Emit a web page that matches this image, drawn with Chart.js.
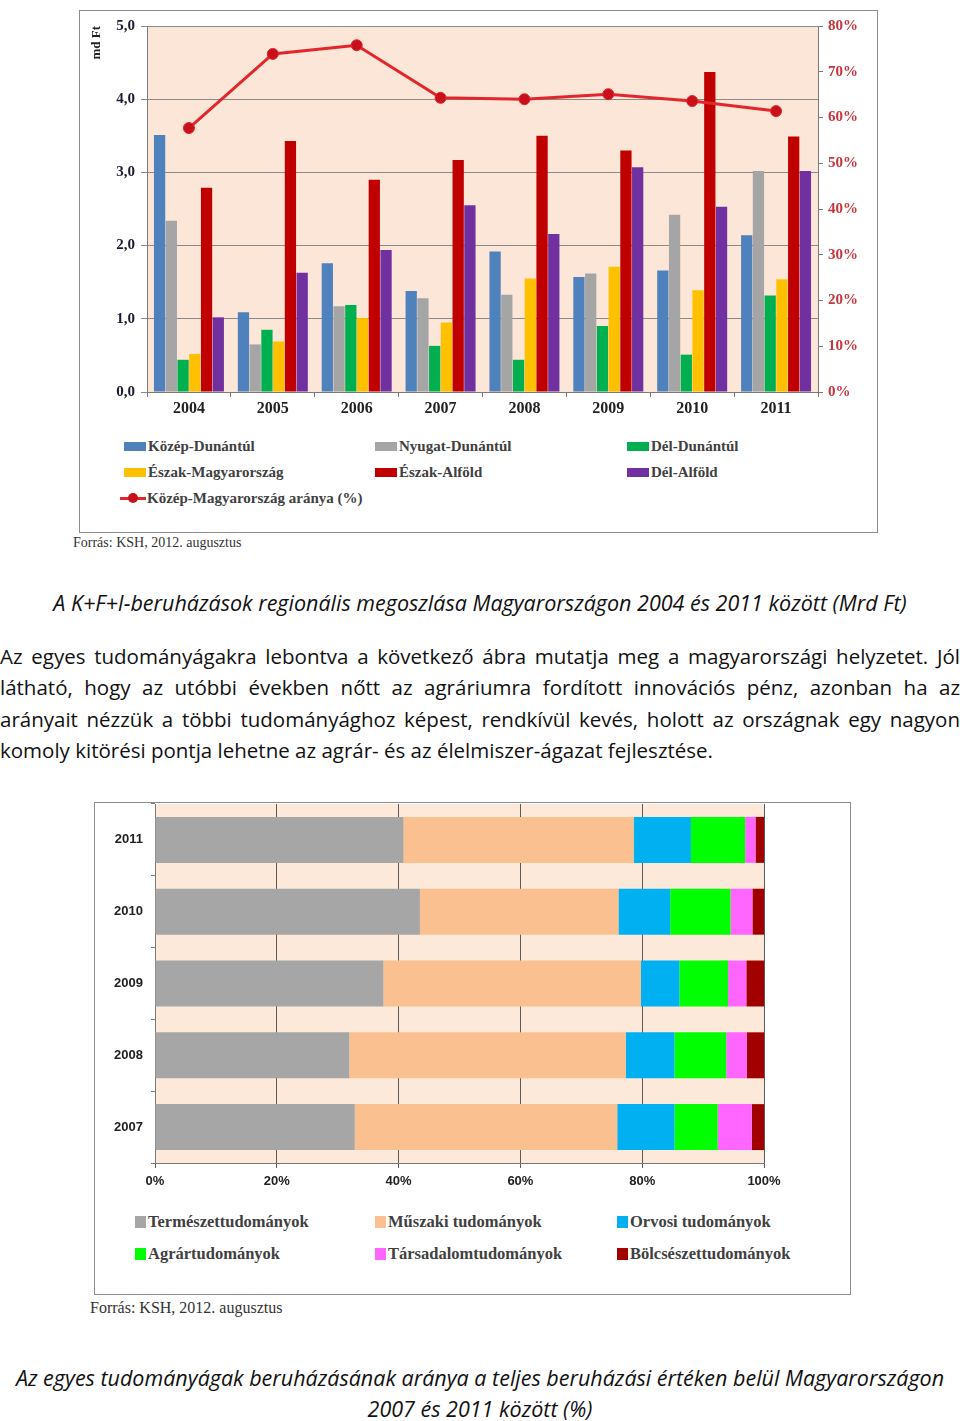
<!DOCTYPE html>
<html lang="hu">
<head>
<meta charset="utf-8">
<script src="https://cdn.jsdelivr.net/npm/chart.js@4.4.1/dist/chart.umd.min.js"></script>
<style>
  body { margin:0; background:#fff; width:960px; height:1421px; position:relative; overflow:hidden; font-family:"Open Sans", sans-serif; color:#111; }
  .box { position:absolute; border:1px solid #8c8c8c; box-sizing:border-box; background:#fff; }
  canvas { position:absolute; }
  .leg { position:absolute; font-family:"Liberation Serif", serif; font-weight:bold; color:#404040; white-space:nowrap; line-height:18px; }
  .leg i { display:inline-block; vertical-align:middle; margin-top:-3px; }
  .src { position:absolute; font-family:"Liberation Serif", serif; color:#333; white-space:nowrap; }
  .cap { position:absolute; left:0; width:960px; text-align:center; font-style:italic; font-size:21.5px; line-height:26px; white-space:nowrap; }
  .par { position:absolute; left:0; width:960px; font-size:20.5px; line-height:26px; text-align:justify; text-align-last:justify; white-space:nowrap; }
  .par.last { text-align-last:left; }
</style>
</head>
<body>

<div class="box" style="left:79px;top:10px;width:799px;height:523px"></div>
<canvas id="chart1" width="798" height="420" style="left:79px;top:10px"></canvas>
<div id="legend1"></div>
<div class="src" style="left:73px;top:535px;font-size:14px">Forrás: KSH, 2012. augusztus</div>

<div class="cap" style="top:590px">A K+F+I-beruházások regionális megoszlása Magyarországon 2004 és 2011 között (Mrd Ft)</div>

<div class="par" style="top:643px">Az egyes tudományágakra lebontva a következő ábra mutatja meg a magyarországi helyzetet. Jól</div>
<div class="par" style="top:674px">látható, hogy az utóbbi években nőtt az agráriumra fordított innovációs pénz, azonban ha az</div>
<div class="par" style="top:706px">arányait nézzük a többi tudományághoz képest, rendkívül kevés, holott az országnak egy nagyon</div>
<div class="par last" style="top:737px">komoly kitörési pontja lehetne az agrár- és az élelmiszer-ágazat fejlesztése.</div>

<div class="box" style="left:94px;top:802px;width:757px;height:493px"></div>
<canvas id="chart2" width="756" height="400" style="left:94px;top:802px"></canvas>
<div id="legend2"></div>
<div class="src" style="left:90px;top:1299px;font-size:16px">Forrás: KSH, 2012. augusztus</div>

<div class="cap" style="top:1365px">Az egyes tudományágak beruházásának aránya a teljes beruházási értéken belül Magyarországon</div>
<div class="cap" style="top:1396px">2007 és 2011 között (%)</div>

<script>
// 1. ábra: régiók, md Ft
const evek1 = ['2004', '2005', '2006', '2007', '2008', '2009', '2010', '2011'];
const regioNevek = ['Közép-Dunántúl', 'Nyugat-Dunántúl', 'Dél-Dunántúl', 'Észak-Magyarország', 'Észak-Alföld', 'Dél-Alföld'];
const kozepDunantul   = [3.51, 1.09, 1.76, 1.38, 1.92, 1.57, 1.66, 2.14];
const nyugatDunantul  = [2.34, 0.65, 1.17, 1.28, 1.33, 1.62, 2.42, 3.02];
const delDunantul     = [0.44, 0.85, 1.19, 0.63, 0.44, 0.90, 0.51, 1.32];
const eszakMagyarorszag = [0.52, 0.69, 1.01, 0.95, 1.55, 1.71, 1.39, 1.54];
const eszakAlfold     = [2.79, 3.43, 2.90, 3.17, 3.50, 3.30, 4.37, 3.49];
const delAlfold       = [1.02, 1.63, 1.94, 2.55, 2.16, 3.07, 2.53, 3.02];
const vonalNev = 'Közép-Magyarország aránya (%)';
const kozepMoArany    = [57.7, 73.9, 75.8, 64.3, 64.0, 65.1, 63.6, 61.4];

// 2. ábra: tudományágak, %
const evek2 = ['2007', '2008', '2009', '2010', '2011'];
const tudomanyNevek = ['Természettudományok', 'Műszaki tudományok', 'Orvosi tudományok', 'Agrártudományok', 'Társadalomtudományok', 'Bölcsészettudományok'];
const termeszet  = [32.8, 31.9, 37.5, 43.5, 40.8];
const muszaki    = [43.1, 45.4, 42.3, 32.6, 37.8];
const orvosi     = [9.4, 8.0, 6.3, 8.5, 9.4];
const agrar      = [7.1, 8.5, 8.0, 9.9, 8.9];
const tarsadalom = [5.6, 3.4, 3.0, 3.6, 1.7];
const bolcsesz   = [2.0, 2.8, 2.9, 1.9, 1.4];

// színek
const regioSzinek = ['#4f81bd', '#a5a5a5', '#00b050', '#ffc000', '#c00000', '#7030a0'];
const tudomanySzinek = ['#a6a6a6', '#fac090', '#00b0f0', '#00ff00', '#ff66ff', '#a00000'];

Chart.defaults.animation = false;
Chart.defaults.font.family = '"Liberation Serif", serif';

// plot háttér
const hatter = {
  id: 'hatter',
  beforeDraw(chart, args, opts) {
    const a = chart.chartArea;
    chart.ctx.save();
    chart.ctx.fillStyle = opts.color;
    chart.ctx.fillRect(a.left, a.top, a.right - a.left, a.bottom - a.top);
    chart.ctx.restore();
  }
};

const regioAdat = [kozepDunantul, nyugatDunantul, delDunantul, eszakMagyarorszag, eszakAlfold, delAlfold];

new Chart(document.getElementById('chart1'), {
  type: 'bar',
  plugins: [hatter],
  data: {
    labels: evek1,
    datasets: [
      {
        type: 'line', label: vonalNev, data: kozepMoArany, yAxisID: 'y2', order: 0,
        borderColor: '#e3262b', borderWidth: 3,
        pointRadius: 5.5, pointBackgroundColor: '#c8101a', pointBorderColor: '#e3262b', pointBorderWidth: 1
      },
      ...regioAdat.map((d, i) => ({
        label: regioNevek[i], data: d, backgroundColor: regioSzinek[i], yAxisID: 'y', order: 1,
        categoryPercentage: 0.84, barPercentage: 0.96
      }))
    ]
  },
  options: {
    responsive: false,
    layout: { padding: { top: 16, left: 0, right: 0, bottom: 0 } },
    plugins: { legend: { display: false }, tooltip: { enabled: false }, hatter: { color: '#fce6d8' } },
    scales: {
      x: {
        afterFit: s => { s.height = 38; },
        grid: { drawOnChartArea: false, offset: true, tickLength: 5, color: '#7a7a7a' },
        border: { color: '#7a7a7a' },
        ticks: { color: '#222', font: { size: 16, weight: 'bold' }, padding: 2 }
      },
      y: {
        position: 'left', min: 0, max: 5,
        afterFit: s => { s.width = 68; },
        ticks: { stepSize: 1, color: '#1c1c30', font: { size: 15, weight: 'bold' }, padding: 6,
                 callback: v => v.toFixed(1).replace('.', ',') },
        grid: { color: '#8a8a8a', tickLength: 6 },
        border: { color: '#7a7a7a' },
        title: { display: true, text: 'md Ft', align: 'end', color: '#222',
                 font: { size: 13, weight: 'bold' }, padding: { top: 10, bottom: 0 } }
      },
      y2: {
        position: 'right', min: 0, max: 80,
        afterFit: s => { s.width = 59; },
        ticks: { stepSize: 10, color: '#c8343c', font: { size: 15, weight: 'bold' }, padding: 5,
                 callback: v => v + '%' },
        grid: { drawOnChartArea: false, color: '#7a7a7a', tickLength: 5 },
        border: { color: '#7a7a7a' }
      }
    }
  }
});

const tudomanyAdat = [termeszet, muszaki, orvosi, agrar, tarsadalom, bolcsesz];

new Chart(document.getElementById('chart2'), {
  type: 'bar',
  plugins: [hatter],
  data: {
    labels: evek2,
    datasets: tudomanyAdat.map((d, i) => ({
      label: tudomanyNevek[i], data: d, backgroundColor: tudomanySzinek[i],
      categoryPercentage: 0.64, barPercentage: 1
    }))
  },
  options: {
    indexAxis: 'y',
    responsive: false,
    layout: { padding: { top: 2, left: 0, right: 86, bottom: 0 } },
    plugins: { legend: { display: false }, tooltip: { enabled: false }, hatter: { color: '#fde9d9' } },
    scales: {
      x: {
        stacked: true, min: 0, max: 100,
        afterFit: s => { s.height = 39; s.paddingLeft = 0; s.paddingRight = 0; },
        ticks: { stepSize: 20, color: '#222', font: { family: '"Liberation Sans", sans-serif', size: 13, weight: 'bold' },
                 padding: 6, callback: v => v + '%' },
        grid: { color: '#5a5a5a', tickLength: 5 },
        border: { color: '#7a7a7a' }
      },
      y: {
        stacked: true, reverse: true,
        afterFit: s => { s.width = 61; s.paddingTop = 0; s.paddingBottom = 0; },
        ticks: { color: '#222', font: { family: '"Liberation Sans", sans-serif', size: 13, weight: 'bold' }, padding: 8 },
        grid: { drawOnChartArea: false, offset: true, tickLength: 4, color: '#7a7a7a' },
        border: { color: '#7a7a7a' }
      }
    }
  }
});

// HTML jelmagyarázatok
function jelmagyarazat(hova, nevek, szinek, hely, meret, betu) {
  const cel = document.getElementById(hova);
  nevek.forEach((n, i) => {
    const el = document.createElement('div');
    el.className = 'leg';
    el.style.left = hely[i][0] + 'px';
    el.style.top = hely[i][1] + 'px';
    el.style.fontSize = betu + 'px';
    el.innerHTML = '<i style="width:' + meret[0] + 'px;height:' + meret[1] + 'px;background:' + szinek[i] + ';margin-right:2px"></i>' + n;
    cel.appendChild(el);
  });
}

jelmagyarazat('legend1', regioNevek, regioSzinek,
  [[124, 437], [375, 437], [627, 437], [124, 463], [375, 463], [627, 463]], [22, 9], 15);

// vonal a jelmagyarázatban
(function () {
  const el = document.createElement('div');
  el.className = 'leg';
  el.style.left = '120px'; el.style.top = '489px'; el.style.fontSize = '15px';
  el.innerHTML = '<i style="position:relative;width:26px;height:3px;background:#e3262b;margin-right:1px">' +
    '<b style="position:absolute;left:8px;top:-4px;width:10px;height:10px;border-radius:50%;background:#c8101a"></b></i>' + vonalNev;
  document.getElementById('legend1').appendChild(el);
})();

jelmagyarazat('legend2', tudomanyNevek, tudomanySzinek,
  [[135, 1213], [375, 1213], [617, 1213], [135, 1245], [375, 1245], [617, 1245]], [11, 12], 16.5);
</script>
</body>
</html>
